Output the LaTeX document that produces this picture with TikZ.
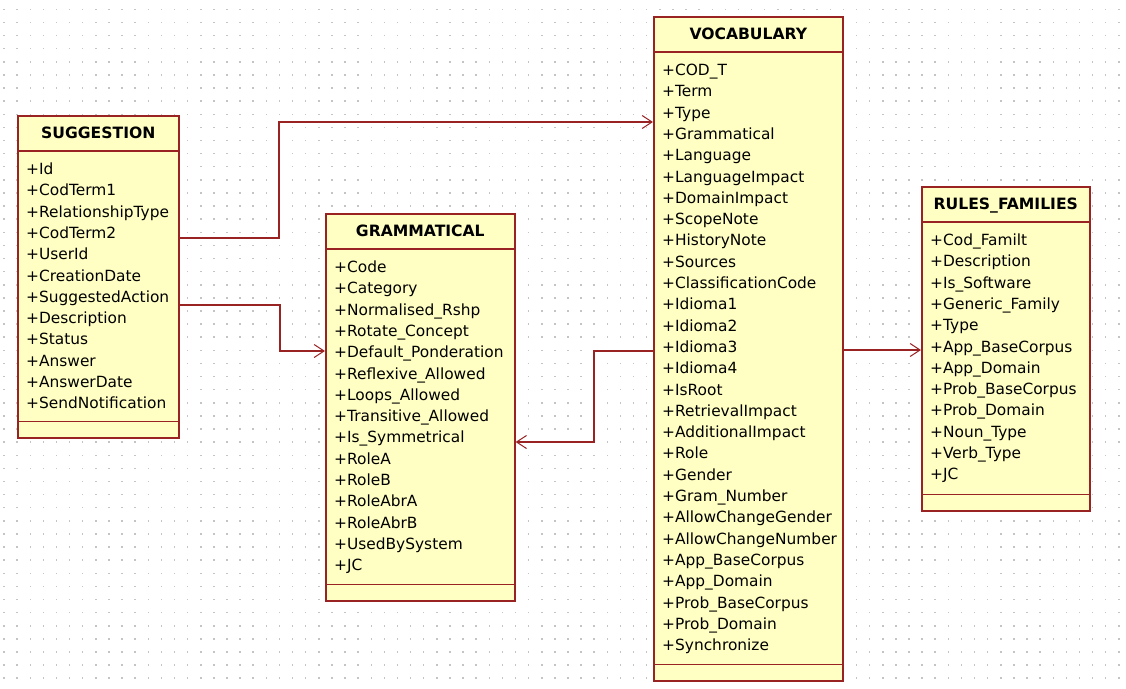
\documentclass[tikz,border=0pt]{standalone}
\usepackage{fontspec}
\setmainfont{DejaVu Sans}
\usetikzlibrary{arrows.meta}

\definecolor{umlfill}{RGB}{255,255,196}
\definecolor{umlline}{RGB}{153,34,34}
\definecolor{griddot}{RGB}{196,196,196}

\tikzset{
  classbox/.style={draw=umlline, line width=1.6pt, fill=umlfill, anchor=north west, inner sep=0pt},
  sepline/.style={draw=umlline, line width=1.6pt},
  classtitle/.style={font=\fontsize{15.6}{17}\selectfont\bfseries, anchor=base, inner sep=0pt},
  attr/.style={font=\fontsize{15.4}{18}\selectfont, anchor=base west, inner sep=0pt},
  conn/.style={draw=umlline, line width=1.4pt,
    -{Straight Barb[length=10pt,width=13pt,line width=1pt]}}
}

% #1 name, #2 left, #3 top, #4 width, #5 bottom, #6 title, #7 attributes
\newcommand\umlclass[7]{%
  \node[classbox, minimum width=#4, minimum height=#5-#3] (#1) at (#2,#3) {};
  \draw[sepline] ([yshift=-36pt]#1.north west) -- ([yshift=-36pt]#1.north east);
  \draw[sepline] ([yshift=17pt]#1.south west) -- ([yshift=17pt]#1.south east);
  \node[classtitle] (#1-title) at ([yshift=-23pt]#1.north) {#6};
  \foreach \a [count=\i from 0] in {#7}
    \node[attr] (#1-a\i) at ([xshift=9pt, yshift=-59.5pt-\i*21.3pt]#1.north west) {\a};
}

\begin{document}
\begin{tikzpicture}[x=1pt, y=-1pt]
  \useasboundingbox (0,0) rectangle (1126,688);
  \fill[white] (0,0) rectangle (1126,688);

  % dotted drawing grid
  \foreach \i in {0,...,85}
    \foreach \j in {0,...,51}
      \fill[griddot] ({3.3+\i*13.115},{8.6+\j*13.115}) rectangle ++(1.5,1.5);

  \umlclass{sugg}{17}{115}{161}{437}{SUGGESTION}{%
    +Id, +CodTerm1, +RelationshipType, +CodTerm2, +UserId, +CreationDate,
    +SuggestedAction, +Description, +Status, +Answer, +AnswerDate, +SendNotification}

  \umlclass{gram}{325}{213}{189}{600}{GRAMMATICAL}{%
    +Code, +Category, +Normalised\_Rshp, +Rotate\_Concept, +Default\_Ponderation,
    +Reflexive\_Allowed, +Loops\_Allowed, +Transitive\_Allowed, +Is\_Symmetrical,
    +RoleA, +RoleB, +RoleAbrA, +RoleAbrB, +UsedBySystem, +JC}

  \umlclass{voc}{653}{16}{189}{680}{VOCABULARY}{%
    +COD\_T, +Term, +Type, +Grammatical, +Language, +LanguageImpact, +DomainImpact,
    +ScopeNote, +HistoryNote, +Sources, +ClassificationCode, +Idioma1, +Idioma2,
    +Idioma3, +Idioma4, +IsRoot, +RetrievalImpact, +AdditionalImpact, +Role, +Gender,
    +Gram\_Number, +AllowChangeGender, +AllowChangeNumber, +App\_BaseCorpus,
    +App\_Domain, +Prob\_BaseCorpus, +Prob\_Domain, +Synchronize}

  \umlclass{rules}{921}{186}{168}{510}{RULES\_FAMILIES}{%
    +Cod\_Familt, +Description, +Is\_Software, +Generic\_Family, +Type,
    +App\_BaseCorpus, +App\_Domain, +Prob\_BaseCorpus, +Prob\_Domain,
    +Noun\_Type, +Verb\_Type, +JC}

  % associations
  \draw[conn] (sugg.east |- 0,238) -- (279,238) |- (voc.west |- 0,122);
  \draw[conn] (sugg.east |- 0,305) -- (280,305) |- (gram.west |- 0,351);
  \draw[conn] (voc.west |- 0,351) -- (594,351) |- (gram.east |- 0,442);
  \draw[conn] (voc.east |- 0,350) -- (rules.west |- 0,350);
\end{tikzpicture}
\end{document}
